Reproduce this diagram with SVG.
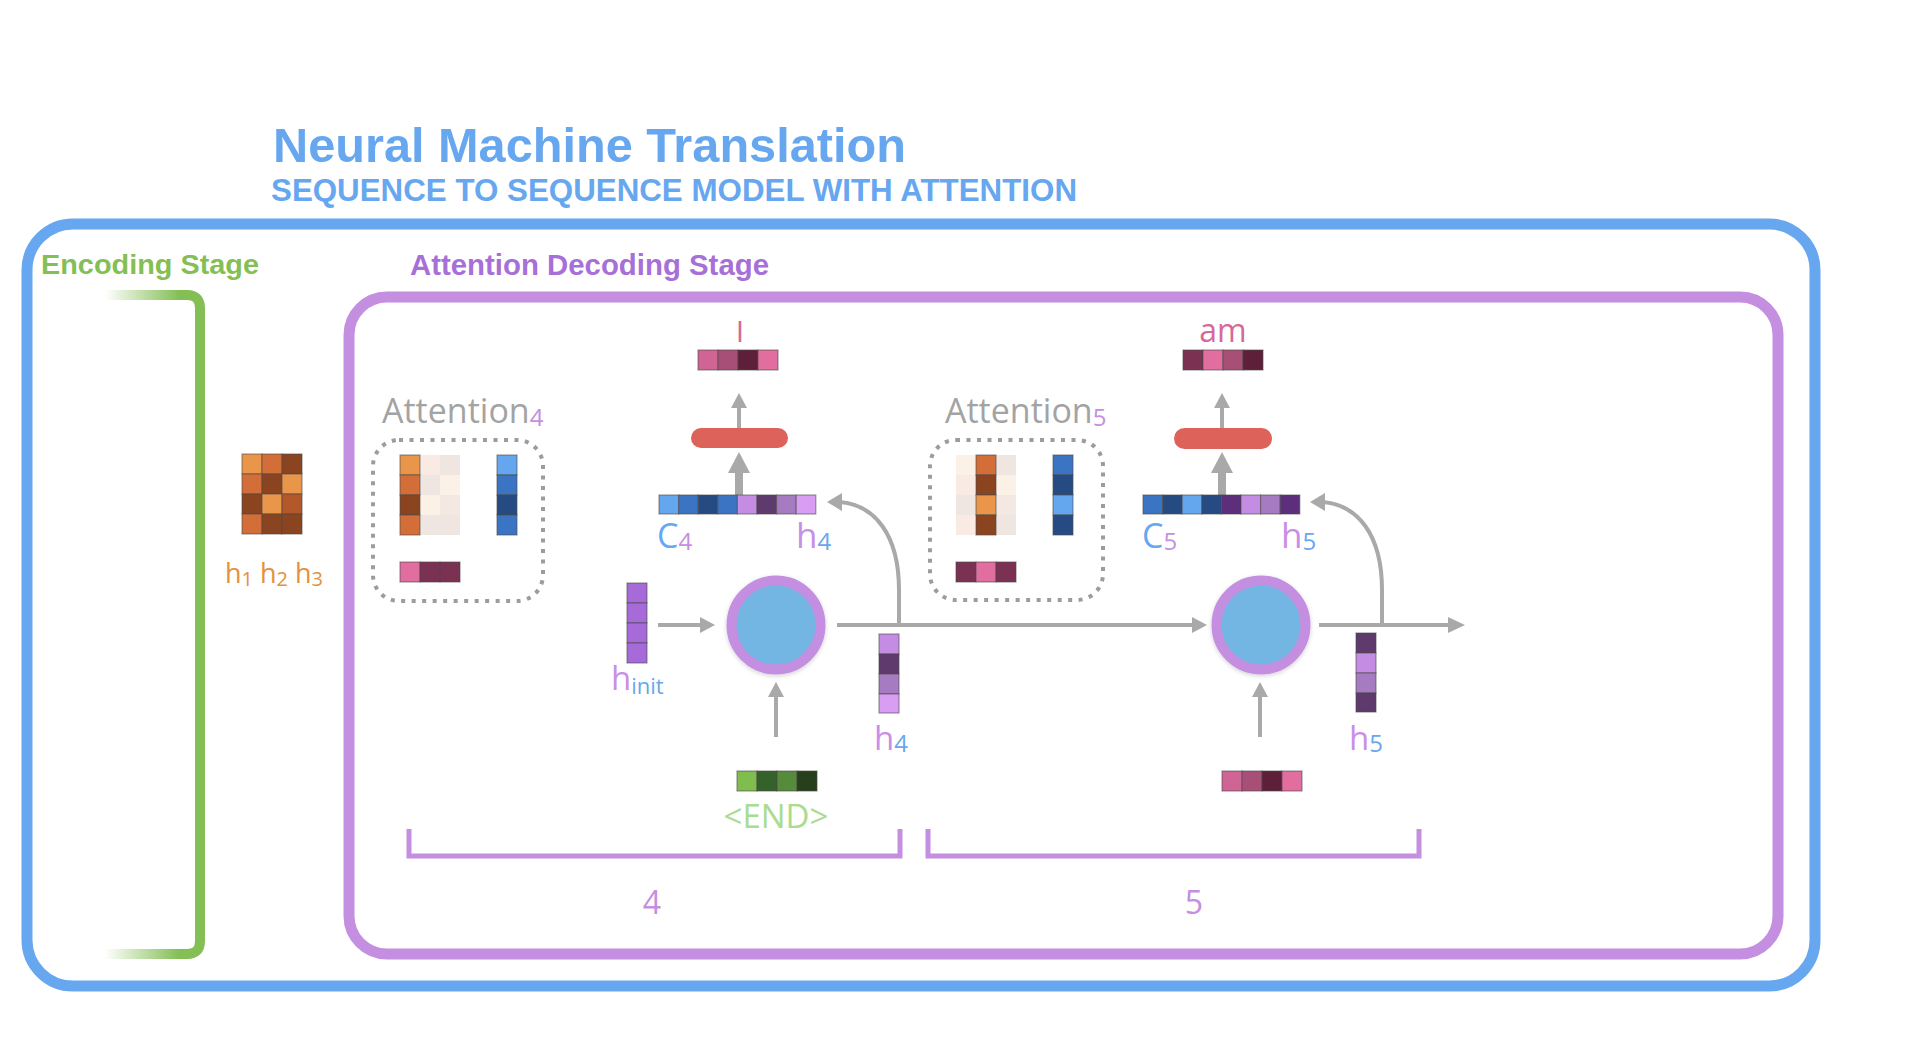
<svg xmlns="http://www.w3.org/2000/svg" width="1926" height="1048" viewBox="0 0 1926 1048">
<style>
.c{stroke:#4a4a4a;stroke-opacity:0.55;stroke-width:1.2}
.ttl{font-family:"Liberation Sans",Arial,sans-serif;font-weight:bold}
.os{font-family:"Open Sans","Noto Sans",sans-serif}
.dot{fill:none;stroke:#9c9c9c;stroke-width:4;stroke-dasharray:4 6.5}
.ar{stroke:#a9a9a9;stroke-width:4;fill:none}
.ah{fill:#a9a9a9}
.pill{fill:#dd635a}
.cell{fill:#73b6e4;stroke:#c48fe0;stroke-width:10}
.fd{opacity:0.13}
</style>
<defs>
<linearGradient id="gg" gradientUnits="userSpaceOnUse" x1="105" y1="0" x2="200" y2="0">
<stop offset="0" stop-color="#84bf55" stop-opacity="0"/>
<stop offset="0.78" stop-color="#84bf55" stop-opacity="1"/>
</linearGradient>
<filter id="sh" x="-20%" y="-20%" width="140%" height="140%">
<feDropShadow dx="0" dy="1.5" stdDeviation="2" flood-color="#000" flood-opacity="0.18"/>
</filter>
</defs>
<rect width="1926" height="1048" fill="#ffffff"/>

<g id="title">
<text class="ttl" x="273" y="162" font-size="48" fill="#66a7ef" textLength="633" lengthAdjust="spacingAndGlyphs">Neural Machine Translation</text>
<text class="ttl" x="271" y="201" font-size="31" fill="#66a7ef" textLength="806" lengthAdjust="spacingAndGlyphs">SEQUENCE TO SEQUENCE MODEL WITH ATTENTION</text>
</g>

<g id="outer-frame">
<rect x="27" y="224" width="1788" height="762" rx="46" fill="none" stroke="#66a7ef" stroke-width="11"/>
</g>

<g id="encoding-stage">
<text class="ttl" x="41" y="274" font-size="28" fill="#84bf55" textLength="218" lengthAdjust="spacingAndGlyphs">Encoding Stage</text>
<path d="M105 295 H187 Q200 295 200 308 V941 Q200 954 187 954 H105" fill="none" stroke="url(#gg)" stroke-width="10"/>
</g>

<g id="decoding-frame">
<text class="ttl" x="410" y="275" font-size="29" fill="#a76fd8" textLength="359" lengthAdjust="spacingAndGlyphs">Attention Decoding Stage</text>
<rect x="349" y="297" width="1429" height="657" rx="38" fill="none" stroke="#c48fe0" stroke-width="11"/>
</g>

<g id="encoder-states">
<rect class="c" x="242" y="454" width="20" height="20" fill="#e9964b"/>
<rect class="c" x="262" y="454" width="20" height="20" fill="#d46e38"/>
<rect class="c" x="282" y="454" width="20" height="20" fill="#8a4520"/>
<rect class="c" x="242" y="474" width="20" height="20" fill="#d46e38"/>
<rect class="c" x="262" y="474" width="20" height="20" fill="#8a4520"/>
<rect class="c" x="282" y="474" width="20" height="20" fill="#e9964b"/>
<rect class="c" x="242" y="494" width="20" height="20" fill="#8a4520"/>
<rect class="c" x="262" y="494" width="20" height="20" fill="#e9964b"/>
<rect class="c" x="282" y="494" width="20" height="20" fill="#b2582a"/>
<rect class="c" x="242" y="514" width="20" height="20" fill="#d46e38"/>
<rect class="c" x="262" y="514" width="20" height="20" fill="#8a4520"/>
<rect class="c" x="282" y="514" width="20" height="20" fill="#8a4520"/>
<text class="os" x="225" y="583" font-size="27" fill="#e3913c">h<tspan font-size="20" dy="3">1</tspan><tspan dy="-3"> h</tspan><tspan font-size="20" dy="3">2</tspan><tspan dy="-3"> h</tspan><tspan font-size="20" dy="3">3</tspan></text>
</g>

<g id="attention-4">
<text class="os" x="382" y="423" font-size="34" fill="#a3a3a3">Attention<tspan font-size="24" dy="3" fill="#c48fe0">4</tspan></text>
<rect class="dot" x="373" y="440" width="170" height="161" rx="26"/>
<rect class="c" x="400" y="455" width="20" height="20" fill="#e9964b"/>
<rect class="c" x="400" y="475" width="20" height="20" fill="#d46e38"/>
<rect class="c" x="400" y="495" width="20" height="20" fill="#8a4520"/>
<rect class="c" x="400" y="515" width="20" height="20" fill="#d46e38"/>
<g class="fd">
<rect x="420" y="455" width="20" height="20" fill="#d46e38"/>
<rect x="420" y="475" width="20" height="20" fill="#8a4520"/>
<rect x="420" y="495" width="20" height="20" fill="#e9964b"/>
<rect x="420" y="515" width="20" height="20" fill="#8a4520"/>
<rect x="440" y="455" width="20" height="20" fill="#8a4520"/>
<rect x="440" y="475" width="20" height="20" fill="#e9964b"/>
<rect x="440" y="495" width="20" height="20" fill="#b2582a"/>
<rect x="440" y="515" width="20" height="20" fill="#8a4520"/>
</g>
<rect class="c" x="497" y="455" width="20" height="20" fill="#65a7ef"/>
<rect class="c" x="497" y="475" width="20" height="20" fill="#3b74c2"/>
<rect class="c" x="497" y="495" width="20" height="20" fill="#264b82"/>
<rect class="c" x="497" y="515" width="20" height="20" fill="#3b74c2"/>
<rect class="c" x="400" y="562" width="20" height="20" fill="#e26ea0"/>
<rect class="c" x="420" y="562" width="20" height="20" fill="#7a3152"/>
<rect class="c" x="440" y="562" width="20" height="20" fill="#7a3152"/>
</g>

<g id="attention-5">
<text class="os" x="945" y="423" font-size="34" fill="#a3a3a3">Attention<tspan font-size="24" dy="3" fill="#c48fe0">5</tspan></text>
<rect class="dot" x="930" y="440" width="173" height="160" rx="26"/>
<g class="fd">
<rect x="956" y="455" width="20" height="20" fill="#e9964b"/>
<rect x="956" y="475" width="20" height="20" fill="#d46e38"/>
<rect x="956" y="495" width="20" height="20" fill="#8a4520"/>
<rect x="956" y="515" width="20" height="20" fill="#d46e38"/>
<rect x="996" y="455" width="20" height="20" fill="#8a4520"/>
<rect x="996" y="475" width="20" height="20" fill="#e9964b"/>
<rect x="996" y="495" width="20" height="20" fill="#b2582a"/>
<rect x="996" y="515" width="20" height="20" fill="#8a4520"/>
</g>
<rect class="c" x="976" y="455" width="20" height="20" fill="#d46e38"/>
<rect class="c" x="976" y="475" width="20" height="20" fill="#8a4520"/>
<rect class="c" x="976" y="495" width="20" height="20" fill="#e9964b"/>
<rect class="c" x="976" y="515" width="20" height="20" fill="#8a4520"/>
<rect class="c" x="1053" y="455" width="20" height="20" fill="#3b74c2"/>
<rect class="c" x="1053" y="475" width="20" height="20" fill="#264b82"/>
<rect class="c" x="1053" y="495" width="20" height="20" fill="#65a7ef"/>
<rect class="c" x="1053" y="515" width="20" height="20" fill="#264b82"/>
<rect class="c" x="956" y="562" width="20" height="20" fill="#7a3152"/>
<rect class="c" x="976" y="562" width="20" height="20" fill="#e26ea0"/>
<rect class="c" x="996" y="562" width="20" height="20" fill="#7a3152"/>
</g>

<g id="connectors">
<line class="ar" x1="658" y1="625" x2="702" y2="625"/>
<polygon class="ah" points="700,617 715,625 700,633"/>
<line class="ar" x1="776" y1="737" x2="776" y2="695"/>
<polygon class="ah" points="768,697 776,682 784,697"/>
<line class="ar" x1="837" y1="625" x2="1194" y2="625"/>
<polygon class="ah" points="1192,617 1207,625 1192,633"/>
<path class="ar" d="M899 625 V590 C899 535 875 505 840 502"/>
<polygon class="ah" points="842,493 827,502 842,511"/>
<rect class="ah" x="735" y="471" width="8" height="24"/>
<polygon class="ah" points="728,473 739,452 750,473"/>
<line class="ar" x1="739" y1="428" x2="739" y2="406"/>
<polygon class="ah" points="731,408 739,393 747,408"/>
<line class="ar" x1="1260" y1="737" x2="1260" y2="695"/>
<polygon class="ah" points="1252,697 1260,682 1268,697"/>
<line class="ar" x1="1319" y1="625" x2="1450" y2="625"/>
<polygon class="ah" points="1448,617 1465,625 1448,633"/>
<path class="ar" d="M1382 625 V590 C1382 535 1358 505 1323 502"/>
<polygon class="ah" points="1325,493 1310,502 1325,511"/>
<rect class="ah" x="1218" y="471" width="8" height="24"/>
<polygon class="ah" points="1211,473 1222,452 1233,473"/>
<line class="ar" x1="1222" y1="428" x2="1222" y2="406"/>
<polygon class="ah" points="1214,408 1222,393 1230,408"/>
</g>

<g id="step-4">
<text class="os" x="740" y="342" font-size="30" fill="#d6689a" text-anchor="middle">I</text>
<rect class="c" x="698" y="350" width="20" height="20" fill="#cf6495"/>
<rect class="c" x="718" y="350" width="20" height="20" fill="#a84f77"/>
<rect class="c" x="738" y="350" width="20" height="20" fill="#5e2039"/>
<rect class="c" x="758" y="350" width="20" height="20" fill="#e26ea0"/>
<rect class="pill" x="691" y="428" width="97" height="20" rx="10"/>
<rect class="c" x="659" y="495" width="19.6" height="19" fill="#65a7ef"/>
<rect class="c" x="678.6" y="495" width="19.6" height="19" fill="#3b74c2"/>
<rect class="c" x="698.2" y="495" width="19.6" height="19" fill="#264b82"/>
<rect class="c" x="717.8" y="495" width="19.6" height="19" fill="#3b74c2"/>
<rect class="c" x="737.4" y="495" width="19.6" height="19" fill="#c48ce2"/>
<rect class="c" x="757" y="495" width="19.6" height="19" fill="#5f3a6c"/>
<rect class="c" x="776.6" y="495" width="19.6" height="19" fill="#a77bc2"/>
<rect class="c" x="796.2" y="495" width="19.6" height="19" fill="#d99ef4"/>
<text class="os" x="657" y="548" font-size="34" fill="#66a7ef">C<tspan font-size="24" dy="2" fill="#c48fe0">4</tspan></text>
<text class="os" x="796" y="548" font-size="35" fill="#c98fe6">h<tspan font-size="24" dy="2" fill="#66a7ef">4</tspan></text>
<rect class="c" x="627" y="583" width="20" height="20" fill="#a66ad9"/>
<rect class="c" x="627" y="603" width="20" height="20" fill="#a66ad9"/>
<rect class="c" x="627" y="623" width="20" height="20" fill="#a66ad9"/>
<rect class="c" x="627" y="643" width="20" height="20" fill="#a66ad9"/>
<text class="os" x="611" y="690" font-size="33" fill="#c98fe6">h<tspan font-size="22" dy="4" fill="#66a7ef">init</tspan></text>
<circle class="cell" cx="776" cy="625" r="44.5" filter="url(#sh)"/>
<rect class="c" x="879" y="634" width="20" height="20" fill="#c48ce2"/>
<rect class="c" x="879" y="654" width="20" height="20" fill="#5f3a6c"/>
<rect class="c" x="879" y="674" width="20" height="20" fill="#a77bc2"/>
<rect class="c" x="879" y="694" width="20" height="19" fill="#d99ef4"/>
<text class="os" x="874" y="750" font-size="33" fill="#c98fe6">h<tspan font-size="24" dy="2" fill="#66a7ef">4</tspan></text>
<rect class="c" x="737" y="771" width="20" height="20" fill="#80bd4f"/>
<rect class="c" x="757" y="771" width="20" height="20" fill="#35622a"/>
<rect class="c" x="777" y="771" width="20" height="20" fill="#558b3a"/>
<rect class="c" x="797" y="771" width="20" height="20" fill="#283f1b"/>
<text class="os" x="776" y="828" font-size="33" fill="#a9dc90" text-anchor="middle">&lt;END&gt;</text>
</g>

<g id="step-5">
<text class="os" x="1223" y="342" font-size="32" fill="#d6689a" text-anchor="middle">am</text>
<rect class="c" x="1183" y="350" width="20" height="20" fill="#7a3152"/>
<rect class="c" x="1203" y="350" width="20" height="20" fill="#e26ea0"/>
<rect class="c" x="1223" y="350" width="20" height="20" fill="#a84f77"/>
<rect class="c" x="1243" y="350" width="20" height="20" fill="#5e2039"/>
<rect class="pill" x="1174" y="428" width="98" height="21" rx="10.5"/>
<rect class="c" x="1143" y="495" width="19.6" height="19" fill="#3b74c2"/>
<rect class="c" x="1162.6" y="495" width="19.6" height="19" fill="#264b82"/>
<rect class="c" x="1182.2" y="495" width="19.6" height="19" fill="#65a7ef"/>
<rect class="c" x="1201.8" y="495" width="19.6" height="19" fill="#264b82"/>
<rect class="c" x="1221.4" y="495" width="19.6" height="19" fill="#5c2e7c"/>
<rect class="c" x="1241" y="495" width="19.6" height="19" fill="#c48ce2"/>
<rect class="c" x="1260.6" y="495" width="19.6" height="19" fill="#a77bc2"/>
<rect class="c" x="1280.2" y="495" width="19.6" height="19" fill="#5c2e7c"/>
<text class="os" x="1142" y="548" font-size="34" fill="#66a7ef">C<tspan font-size="24" dy="2" fill="#c48fe0">5</tspan></text>
<text class="os" x="1281" y="548" font-size="35" fill="#c98fe6">h<tspan font-size="24" dy="2" fill="#66a7ef">5</tspan></text>
<circle class="cell" cx="1261" cy="625" r="44.5" filter="url(#sh)"/>
<rect class="c" x="1356" y="633" width="20" height="20" fill="#5f3a6c"/>
<rect class="c" x="1356" y="653" width="20" height="20" fill="#c48ce2"/>
<rect class="c" x="1356" y="673" width="20" height="20" fill="#a77bc2"/>
<rect class="c" x="1356" y="693" width="20" height="19" fill="#5f3a6c"/>
<text class="os" x="1349" y="750" font-size="33" fill="#c98fe6">h<tspan font-size="24" dy="2" fill="#66a7ef">5</tspan></text>
<rect class="c" x="1222" y="771" width="20" height="20" fill="#cf6495"/>
<rect class="c" x="1242" y="771" width="20" height="20" fill="#a84f77"/>
<rect class="c" x="1262" y="771" width="20" height="20" fill="#5e2039"/>
<rect class="c" x="1282" y="771" width="20" height="20" fill="#e26ea0"/>
</g>

<g id="timestep-brackets">
<path d="M409 829 V856 H900 V829" fill="none" stroke="#c48fe0" stroke-width="5"/>
<text class="os" x="652" y="914" font-size="32" fill="#c48fe0" text-anchor="middle">4</text>
<path d="M928 829 V856 H1419 V829" fill="none" stroke="#c48fe0" stroke-width="5"/>
<text class="os" x="1194" y="914" font-size="32" fill="#c48fe0" text-anchor="middle">5</text>
</g>
</svg>
